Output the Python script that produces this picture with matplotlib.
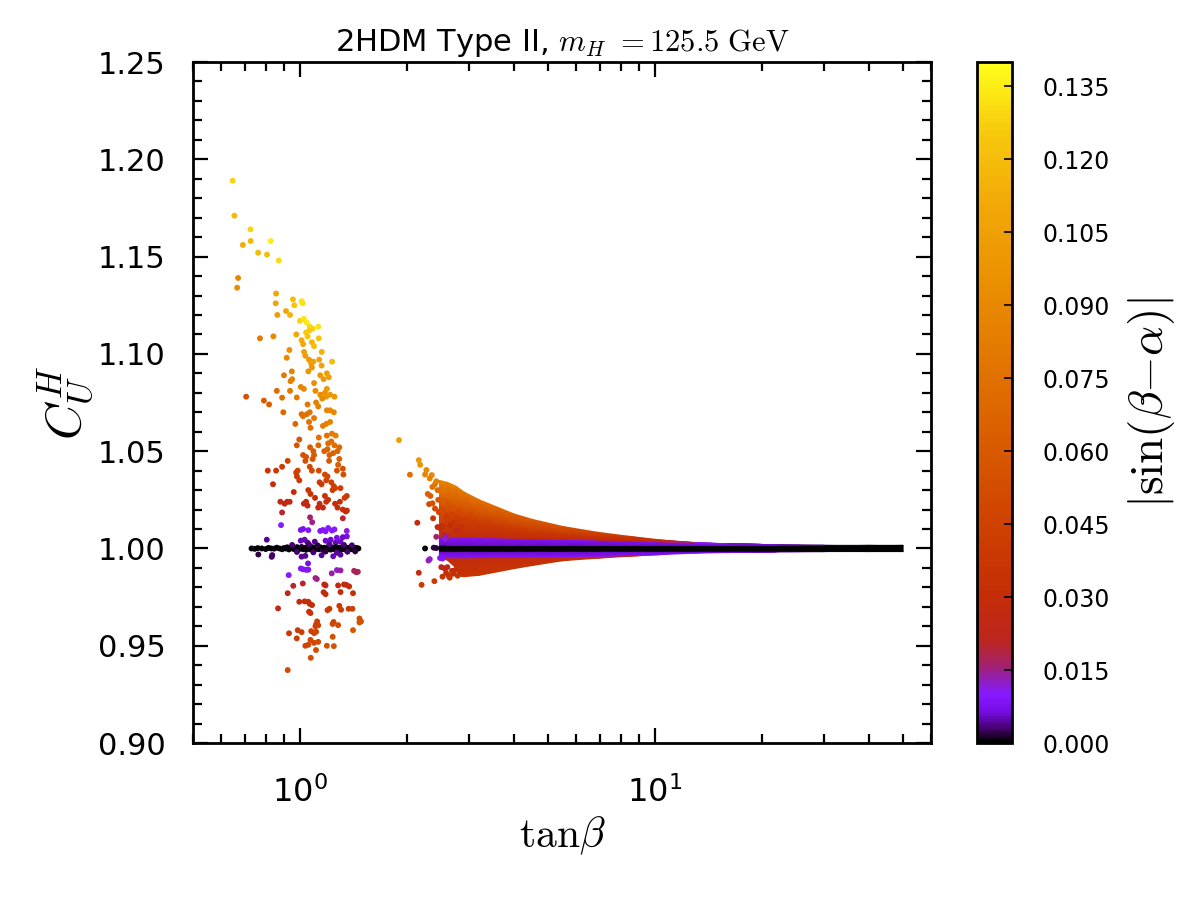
import numpy as np
import matplotlib
matplotlib.use("Agg")
import matplotlib.pyplot as plt
from matplotlib.colors import LinearSegmentedColormap, Normalize
from matplotlib.ticker import MultipleLocator, NullFormatter

plt.rcParams['font.family'] = ['DejaVu Sans']
plt.rcParams['mathtext.fontset'] = 'dejavusans'

# ---- data: (tan beta, C_U^H, |sin(beta-alpha)|) ----
upper_left = [
    (0.646, 1.189, 0.128), (0.653, 1.171, 0.118), (0.725, 1.164, 0.128), (0.726, 1.158, 0.118),
    (0.690, 1.156, 0.112), (0.827, 1.158, 0.135), (0.762, 1.152, 0.120), (0.807, 1.151, 0.120),
    (0.871, 1.148, 0.130), (0.669, 1.139, 0.090), (0.665, 1.134, 0.092), (0.856, 1.131, 0.110),
    (0.854, 1.126, 0.108), (0.863, 1.120, 0.104), (0.955, 1.128, 0.120), (0.963, 1.125, 0.122),
    (1.010, 1.127, 0.132), (1.018, 1.126, 0.132), (0.913, 1.122, 0.110), (0.937, 1.120, 0.115),
    (1.000, 1.117, 0.128), (1.025, 1.118, 0.132), (1.045, 1.116, 0.134), (1.065, 1.114, 0.130),
    (1.085, 1.113, 0.128), (1.126, 1.114, 0.132), (1.062, 1.112, 0.126), (1.050, 1.109, 0.124),
    (1.040, 1.111, 0.125), (0.771, 1.108, 0.080), (0.841, 1.109, 0.090), (0.976, 1.110, 0.110),
    (1.010, 1.107, 0.112), (1.020, 1.105, 0.110), (1.080, 1.106, 0.118), (1.095, 1.104, 0.120),
    (1.129, 1.108, 0.122), (0.933, 1.102, 0.095), (1.026, 1.101, 0.105), (1.035, 1.099, 0.104),
    (1.151, 1.101, 0.115), (1.231, 1.096, 0.120), (0.917, 1.098, 0.090), (1.060, 1.097, 0.100),
    (1.075, 1.095, 0.102), (1.090, 1.096, 0.104), (1.132, 1.097, 0.106), (1.150, 1.094, 0.106),
    (0.948, 1.091, 0.085), (0.901, 1.089, 0.080), (1.055, 1.091, 0.098), (1.080, 1.093, 0.100),
    (1.140, 1.089, 0.100), (1.165, 1.087, 0.100), (1.190, 1.090, 0.104), (1.205, 1.088, 0.104),
    (0.940, 1.086, 0.085), (0.950, 1.087, 0.086), (0.937, 1.081, 0.080), (1.005, 1.083, 0.088),
    (1.025, 1.082, 0.090), (1.095, 1.085, 0.094), (1.105, 1.081, 0.092), (1.190, 1.082, 0.100),
    (1.185, 1.078, 0.098), (0.860, 1.081, 0.070), (0.705, 1.078, 0.055), (0.791, 1.076, 0.062),
    (0.818, 1.074, 0.064), (0.890, 1.0775, 0.074), (0.979, 1.0776, 0.082), (1.140, 1.079, 0.092),
    (1.155, 1.077, 0.092), (1.175, 1.080, 0.096), (1.215, 1.079, 0.100), (1.250, 1.078, 0.100),
    (1.110, 1.075, 0.085), (1.125, 1.073, 0.085), (1.050, 1.074, 0.080), (1.065, 1.070, 0.078),
    (1.045, 1.069, 0.076), (0.897, 1.070, 0.068), (1.010, 1.069, 0.075), (1.020, 1.068, 0.075),
    (1.190, 1.071, 0.088), (1.215, 1.071, 0.090), (1.245, 1.070, 0.090), (0.970, 1.064, 0.068),
    (1.060, 1.065, 0.074), (1.070, 1.062, 0.074), (1.095, 1.067, 0.080), (1.160, 1.063, 0.082),
    (1.185, 1.064, 0.084), (1.215, 1.065, 0.086), (1.230, 1.059, 0.082), (1.260, 1.058, 0.084),
    (1.129, 1.057, 0.074), (1.190, 1.058, 0.076), (1.200, 1.054, 0.072), (1.225, 1.055, 0.074),
    (1.250, 1.053, 0.074), (0.995, 1.056, 0.060), (1.067, 1.052, 0.064), (1.090, 1.050, 0.062),
    (1.126, 1.053, 0.068), (0.979, 1.053, 0.058), (1.020, 1.048, 0.055), (1.040, 1.047, 0.056),
    (1.035, 1.045, 0.054), (1.085, 1.046, 0.058), (1.095, 1.048, 0.060), (1.170, 1.050, 0.064),
    (1.195, 1.051, 0.066), (1.210, 1.048, 0.064), (1.240, 1.049, 0.066), (1.290, 1.052, 0.070),
    (1.275, 1.050, 0.068), (1.207, 1.045, 0.060), (1.290, 1.046, 0.066), (1.280, 1.043, 0.062),
    (0.923, 1.045, 0.045), (0.985, 1.040, 0.044), (0.975, 1.039, 0.043), (1.065, 1.042, 0.050),
    (1.080, 1.040, 0.050), (1.129, 1.040, 0.050), (1.175, 1.038, 0.050), (1.195, 1.037, 0.050),
    (1.185, 1.035, 0.048), (1.270, 1.040, 0.055), (1.320, 1.041, 0.056), (1.325, 1.038, 0.054),
    (0.811, 1.040, 0.034), (0.856, 1.040, 0.038), (0.890, 1.042, 0.040), (0.839, 1.033, 0.030),
    (0.980, 1.037, 0.040), (0.995, 1.035, 0.040), (1.055, 1.030, 0.035), (1.070, 1.028, 0.034),
    (0.960, 1.029, 0.030), (0.935, 1.024, 0.026), (1.135, 1.034, 0.040), (1.150, 1.033, 0.040),
    (1.225, 1.034, 0.044), (1.245, 1.032, 0.044), (1.235, 1.030, 0.042), (1.255, 1.031, 0.044),
    (1.300, 1.031, 0.044), (1.335, 1.026, 0.040), (1.102, 1.026, 0.030), (1.175, 1.027, 0.034),
    (1.185, 1.024, 0.032), (1.200, 1.025, 0.034), (1.354, 1.027, 0.040), (0.880, 1.024, 0.025),
    (0.905, 1.023, 0.025), (0.920, 1.024, 0.025), (0.890, 1.0185, 0.020), (1.025, 1.023, 0.026),
    (1.040, 1.024, 0.027), (1.050, 1.022, 0.026), (1.125, 1.021, 0.026), (1.135, 1.023, 0.027),
    (1.160, 1.021, 0.028), (1.255, 1.023, 0.030), (1.275, 1.021, 0.030), (1.295, 1.024, 0.032),
    (1.320, 1.020, 0.030), (1.345, 1.019, 0.030), (1.355, 1.0195, 0.030), (1.067, 1.016, 0.016),
    (1.082, 1.0135, 0.015), (1.320, 1.0155, 0.020), (0.884, 1.012, 0.010), (1.005, 1.0095, 0.008),
    (1.020, 1.010, 0.008), (1.055, 1.0094, 0.009), (1.140, 1.009, 0.009), (1.160, 1.0095, 0.009),
    (1.180, 1.0088, 0.010), (1.200, 1.0105, 0.010), (1.250, 1.0098, 0.010), (1.230, 1.0092, 0.010),
    (1.354, 1.009, 0.012), (1.355, 1.0062, 0.007), (1.320, 1.0058, 0.006), (0.806, 1.0045, 0.004),
    (1.005, 1.004, 0.005), (1.030, 1.0045, 0.005), (1.050, 1.003, 0.004), (1.180, 1.004, 0.006),
    (1.220, 1.0045, 0.006), (1.260, 1.003, 0.005), (1.300, 1.0035, 0.006), (1.270, 1.0055, 0.007),
    (1.100, 1.0035, 0.004),
]

lower_left = [
    (0.763, 0.9969, 0.002), (0.832, 0.9957, 0.003), (0.835, 0.9966, 0.003), (1.010, 0.9958, 0.004),
    (1.035, 0.9962, 0.004), (1.150, 0.9965, 0.004), (1.240, 0.9960, 0.005), (1.300, 0.9968, 0.004),
    (1.005, 0.9897, 0.009), (1.020, 0.9893, 0.009), (1.040, 0.9890, 0.009), (1.055, 0.9891, 0.009),
    (1.053, 0.9923, 0.007), (0.929, 0.9863, 0.010), (1.105, 0.9848, 0.015), (1.115, 0.9843, 0.015),
    (1.270, 0.9889, 0.013), (1.300, 0.9887, 0.014), (1.228, 0.9872, 0.014), (1.420, 0.9885, 0.017),
    (1.440, 0.9878, 0.017), (1.455, 0.9880, 0.018), (0.957, 0.9808, 0.020), (1.018, 0.9820, 0.020),
    (1.170, 0.9815, 0.023), (1.180, 0.9810, 0.024), (1.165, 0.9775, 0.026), (1.180, 0.9765, 0.028),
    (1.280, 0.9810, 0.025), (1.330, 0.9815, 0.026), (1.350, 0.9813, 0.026), (1.375, 0.9805, 0.027),
    (1.300, 0.9776, 0.029), (1.410, 0.9770, 0.032), (0.923, 0.9770, 0.021), (0.995, 0.9726, 0.028),
    (1.030, 0.9728, 0.029), (1.055, 0.9726, 0.030), (1.081, 0.9709, 0.031), (1.065, 0.9715, 0.030),
    (1.060, 0.9675, 0.034), (1.070, 0.9668, 0.035), (1.195, 0.9683, 0.038), (1.210, 0.9690, 0.038),
    (1.290, 0.9705, 0.038), (1.305, 0.9685, 0.040), (1.370, 0.9690, 0.042), (1.405, 0.9690, 0.043),
    (0.867, 0.9692, 0.025), (1.117, 0.9625, 0.042), (1.110, 0.9610, 0.043), (1.105, 0.9600, 0.044),
    (1.125, 0.9605, 0.044), (1.243, 0.9622, 0.046), (1.235, 0.9612, 0.047), (1.280, 0.9606, 0.050),
    (1.470, 0.9640, 0.052), (1.485, 0.9625, 0.054), (1.470, 0.9620, 0.055), (0.985, 0.9580, 0.040),
    (1.010, 0.9570, 0.042), (1.075, 0.9575, 0.045), (1.095, 0.9565, 0.046), (1.110, 0.9572, 0.047),
    (1.410, 0.9580, 0.058), (0.931, 0.9564, 0.038), (0.979, 0.9538, 0.042), (1.070, 0.9530, 0.048),
    (1.095, 0.9515, 0.049), (1.125, 0.9520, 0.050), (1.236, 0.9546, 0.054), (1.035, 0.9500, 0.046),
    (1.055, 0.9505, 0.047), (1.109, 0.9478, 0.052), (1.190, 0.9500, 0.054), (1.245, 0.9498, 0.056),
    (1.072, 0.9438, 0.052), (0.923, 0.9375, 0.050),
]

# nearly aligned points at C = 1 in the low tan(beta) cluster
line_left = [
    (0.730, 1.0000, 0.000), (0.745, 0.9998, 0.001), (0.760, 1.0002, 0.000), (0.780, 1.0000, 0.000),
    (0.800, 0.9997, 0.001), (0.815, 1.0003, 0.000), (0.830, 1.0000, 0.000), (0.845, 0.9999, 0.001),
    (0.860, 1.0004, 0.000), (0.875, 1.0000, 0.000), (0.890, 0.9996, 0.001), (0.900, 1.0002, 0.000),
    (0.910, 1.0000, 0.000), (0.920, 1.0006, 0.001), (0.930, 0.9995, 0.000), (0.940, 1.0001, 0.000),
    (0.950, 1.0004, 0.001), (0.960, 0.9997, 0.000), (0.970, 1.0000, 0.000), (0.980, 1.0007, 0.001),
    (0.990, 0.9994, 0.000), (1.000, 1.0002, 0.000), (1.010, 1.0008, 0.002), (1.020, 0.9996, 0.000),
    (1.030, 1.0003, 0.000), (1.040, 0.9993, 0.001), (1.050, 1.0005, 0.000), (1.060, 1.0000, 0.000),
    (1.070, 0.9995, 0.001), (1.080, 1.0007, 0.000), (1.090, 1.0001, 0.000), (1.100, 0.9994, 0.001),
    (1.110, 1.0004, 0.000), (1.120, 1.0000, 0.000), (1.130, 0.9996, 0.001), (1.140, 1.0006, 0.000),
    (1.150, 1.0001, 0.000), (1.160, 0.9993, 0.002), (1.170, 1.0004, 0.000), (1.180, 1.0000, 0.000),
    (1.190, 0.9995, 0.001), (1.200, 1.0008, 0.001), (1.210, 1.0001, 0.000), (1.220, 0.9994, 0.001),
    (1.230, 1.0005, 0.000), (1.240, 1.0000, 0.000), (1.250, 0.9996, 0.001), (1.260, 1.0007, 0.001),
    (1.270, 1.0001, 0.000), (1.280, 0.9993, 0.002), (1.290, 1.0004, 0.000), (1.300, 1.0000, 0.000),
    (1.310, 0.9996, 0.001), (1.320, 1.0006, 0.001), (1.330, 1.0000, 0.000), (1.340, 0.9995, 0.001),
    (1.350, 1.0004, 0.000), (1.360, 1.0000, 0.000), (1.370, 0.9996, 0.001), (1.380, 1.0005, 0.000),
    (1.390, 1.0000, 0.000), (1.400, 0.9996, 0.001), (1.410, 1.0004, 0.000), (1.420, 1.0000, 0.000),
    (1.430, 0.9997, 0.000), (1.440, 1.0003, 0.000), (1.450, 1.0000, 0.000), (1.460, 1.0000, 0.000),
    (0.950, 1.0018, 0.003), (1.060, 1.0020, 0.003), (1.120, 1.0016, 0.002), (1.210, 1.0022, 0.004),
    (1.330, 1.0018, 0.003), (1.400, 1.0016, 0.003), (0.980, 0.9982, 0.003), (1.090, 0.9980, 0.003),
    (1.180, 0.9984, 0.002), (1.270, 0.9978, 0.004), (1.360, 0.9983, 0.003), (1.430, 0.9985, 0.002),
]

# sparse points at the start of the large tan(beta) band
fringe = [
    (1.90, 1.0557, 0.105), (2.16, 1.0454, 0.100), (2.18, 1.0430, 0.098), (2.04, 1.0379, 0.075),
    (2.27, 1.0403, 0.090), (2.25, 1.0380, 0.088), (2.35, 1.0377, 0.090), (2.32, 1.0360, 0.086),
    (2.29, 1.0280, 0.065), (2.33, 1.0270, 0.064), (2.36, 1.0316, 0.075), (2.40, 1.0330, 0.078),
    (2.31, 1.0228, 0.052), (2.36, 1.0232, 0.054), (2.37, 1.0155, 0.036), (2.14, 1.0132, 0.028),
    (2.46, 1.0187, 0.046), (2.50, 1.0200, 0.050), (2.44, 1.0110, 0.028), (2.48, 1.0105, 0.027),
    (2.52, 1.0115, 0.030), (2.55, 1.0069, 0.019), (2.60, 1.0062, 0.018), (2.56, 1.0050, 0.012),
    (2.25, 1.0000, 0.000), (2.38, 1.0004, 0.002), (2.42, 1.0002, 0.002), (2.50, 1.0000, 0.000),
    (2.55, 1.0001, 0.000), (2.30, 0.9938, 0.013), (2.32, 0.9945, 0.013), (2.48, 0.9951, 0.009),
    (2.52, 0.9948, 0.009), (2.50, 0.9904, 0.022), (2.55, 0.9898, 0.024), (2.60, 0.9904, 0.024),
    (2.16, 0.9875, 0.027), (2.20, 0.9813, 0.040), (2.39, 0.9832, 0.040), (2.52, 0.9855, 0.034),
    (2.62, 0.9860, 0.035), (2.70, 0.9870, 0.034), (2.74, 0.9890, 0.030), (2.68, 0.9885, 0.030),
    (2.78, 0.9860, 0.036), (2.82, 0.9875, 0.034), (2.86, 0.9868, 0.035), (2.58, 0.9875, 0.030),
    (2.64, 0.9850, 0.037), (2.55, 1.0240, 0.060), (2.60, 1.0300, 0.075), (2.62, 1.0220, 0.055),
    (2.68, 1.0170, 0.045), (2.72, 1.0130, 0.035), (2.65, 1.0120, 0.032), (2.78, 1.0150, 0.042),
    (2.84, 1.0110, 0.032), (2.88, 1.0140, 0.040), (2.75, 1.0090, 0.025), (2.58, 1.0160, 0.040),
    (2.45, 1.0250, 0.060), (2.70, 1.0210, 0.055), (2.80, 1.0190, 0.050), (2.92, 0.9880, 0.034),
    (2.42, 1.0345, 0.084), (2.44, 1.0300, 0.072), (2.40, 1.0205, 0.050), (2.42, 1.0060, 0.016),
]

# dense band for tan(beta) > 2.45: edges (C - 1) and colour values per column
band_tan = [2.47, 2.6, 2.75, 2.9, 3.2, 3.6, 4.0, 4.5, 5.5, 6.9, 8.5, 10.5, 13, 16, 22, 30, 40, 50]
band_top = [0.035, 0.034, 0.032, 0.029, 0.0250, 0.0212, 0.0178, 0.0150, 0.0113, 0.0083,
            0.0062, 0.0043, 0.0030, 0.0024, 0.0019, 0.0016, 0.0016, 0.0016]
band_top_s = [0.088, 0.086, 0.084, 0.080, 0.076, 0.070, 0.066, 0.062, 0.056, 0.048,
              0.040, 0.032, 0.014, 0.008, 0.005, 0.002, 0.001, 0.0]
band_mid = [0.026, 0.0185, 0.0175, 0.016, 0.0138, 0.0118, 0.0100, 0.0087, 0.0070, 0.0058,
            0.0048, 0.0039, 0.0030, 0.0024, 0.0019, 0.0016, 0.0016, 0.0016]
band_mid_s = [0.066, 0.048, 0.046, 0.044, 0.042, 0.040, 0.039, 0.038, 0.036, 0.034,
              0.032, 0.029, 0.012, 0.008, 0.005, 0.002, 0.001, 0.0]
band_uv = [0.0055, 0.0058, 0.0058, 0.0057, 0.0056, 0.0055, 0.0053, 0.0051, 0.0048, 0.0044,
           0.0040, 0.0034, 0.0029, 0.0024, 0.0019, 0.0016, 0.0016, 0.0016]
band_lv = [-0.0040, -0.0048, -0.0048, -0.0048, -0.0047, -0.0046, -0.0045, -0.0044, -0.0042,
           -0.0040, -0.0036, -0.0031, -0.0024, -0.0021, -0.0017, -0.0016, -0.0016, -0.0016]
band_bot = [-0.0040, -0.0060, -0.0100, -0.0145, -0.0138, -0.0120, -0.0104, -0.0088, -0.0063,
            -0.0050, -0.0040, -0.0031, -0.0024, -0.0021, -0.0017, -0.0016, -0.0016, -0.0016]
band_bot_s = [0.028, 0.030, 0.033, 0.036, 0.036, 0.036, 0.035, 0.034, 0.034, 0.033,
              0.032, 0.028, 0.010, 0.008, 0.005, 0.002, 0.001, 0.0]
band_red_s = [0.028, 0.028, 0.028, 0.028, 0.028, 0.028, 0.028, 0.028, 0.028, 0.028,
              0.027, 0.024, 0.010, 0.008, 0.005, 0.002, 0.001, 0.0]
band_violet_s = [0.009, 0.009, 0.009, 0.009, 0.009, 0.009, 0.009, 0.009, 0.009, 0.009,
                 0.009, 0.009, 0.009, 0.008, 0.005, 0.002, 0.001, 0.0]
band_inner_s = [0.006, 0.006, 0.006, 0.006, 0.006, 0.006, 0.006, 0.006, 0.006, 0.006,
                0.006, 0.006, 0.006, 0.006, 0.005, 0.002, 0.001, 0.0]
core_half = 0.0013
violet_half = 0.0016

cbar_ticks = [0.000, 0.015, 0.030, 0.045, 0.060, 0.075, 0.090, 0.105, 0.120, 0.135]
s_max = 0.14

# ---- colour map (black - violet - red - orange - yellow) ----
cmap = LinearSegmentedColormap.from_list('hot_violet', [
    (0.000, (0.00, 0.00, 0.00)),
    (0.020, (0.28, 0.00, 0.45)),
    (0.045, (0.47, 0.05, 0.90)),
    (0.070, (0.53, 0.10, 1.00)),
    (0.090, (0.56, 0.12, 0.75)),
    (0.115, (0.65, 0.13, 0.40)),
    (0.150, (0.74, 0.15, 0.12)),
    (0.220, (0.77, 0.18, 0.02)),
    (0.350, (0.82, 0.28, 0.00)),
    (0.500, (0.87, 0.41, 0.00)),
    (0.650, (0.91, 0.54, 0.00)),
    (0.800, (0.95, 0.67, 0.03)),
    (0.900, (0.97, 0.79, 0.05)),
    (1.000, (1.00, 1.00, 0.10)),
])
norm = Normalize(vmin=0.0, vmax=s_max)

fig = plt.figure(figsize=(6, 4.5), dpi=200)
ax = fig.add_axes([0.161, 0.1744, 0.615, 0.7567])
cax = fig.add_axes([0.814, 0.1744, 0.029, 0.7567])

# dense band as a gouraud shaded mesh
n = len(band_tan)
rows_off = [band_bot, band_lv, band_lv, [-violet_half] * n, [-core_half] * n,
            [core_half] * n, [violet_half] * n, band_uv, band_uv, band_mid, band_top]
rows_s = [band_bot_s, band_red_s, band_violet_s, band_inner_s, [0.0] * n,
          [0.0] * n, band_inner_s, band_violet_s, band_red_s, band_mid_s, band_top_s]
X = np.tile(np.array(band_tan), (len(rows_off), 1))
Y = 1.0 + np.array(rows_off)
S = np.array(rows_s)
ax.pcolormesh(X, Y, S, shading='gouraud', cmap=cmap, norm=norm, zorder=1, rasterized=True)

for pts in (fringe, lower_left, upper_left, line_left):
    t, c, s = zip(*pts)
    ax.scatter(t, c, c=s, cmap=cmap, norm=norm, s=4.5, linewidths=0, zorder=2)

ax.set_xscale('log')
ax.set_xlim(0.5, 60)
ax.set_ylim(0.90, 1.25)
ax.yaxis.set_major_locator(MultipleLocator(0.05))
ax.yaxis.set_minor_locator(MultipleLocator(0.01))
ax.yaxis.set_major_formatter(plt.FormatStrFormatter('%.2f'))
ax.xaxis.set_minor_formatter(NullFormatter())
ax.tick_params(which='both', direction='in', top=True, right=True, width=0.8)
ax.tick_params(which='major', length=5.4)
ax.tick_params(which='minor', length=3.2)
ax.tick_params(axis='y', labelsize=11, pad=10)
ax.tick_params(axis='x', labelsize=11.5, pad=12)
for sp in ax.spines.values():
    sp.set_linewidth(1.0)

ax.set_xlabel(r'$\mathrm{tan}\beta$', fontsize=15, labelpad=2, math_fontfamily='cm')
ax.set_ylabel(r'$C_U^H$', fontsize=18, labelpad=1, math_fontfamily='cm')
ax.set_title(r'2HDM Type II, $m_H$ ${=}125.5\ \mathrm{GeV}$', fontsize=11, pad=4,
             math_fontfamily='cm')

sm = plt.cm.ScalarMappable(norm=norm, cmap=cmap)
cb = fig.colorbar(sm, cax=cax)
cb.set_ticks(cbar_ticks)
cb.ax.yaxis.set_major_formatter(plt.FormatStrFormatter('%.3f'))
cb.ax.tick_params(direction='in', length=3, width=0.6, labelsize=8.5, pad=11)
cb.ax.minorticks_off()
cb.outline.set_linewidth(1.0)
cb.set_label(r'$|\sin(\beta{-}\alpha)|$', fontsize=17, labelpad=6, math_fontfamily='cm')

fig.savefig('out.png', dpi=200)
